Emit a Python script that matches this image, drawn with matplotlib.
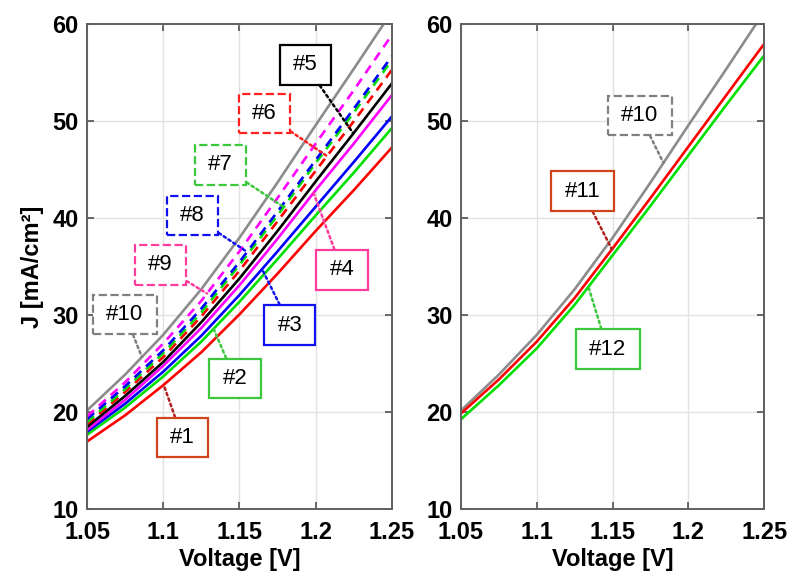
import matplotlib
matplotlib.use("Agg")
import matplotlib.pyplot as plt
from matplotlib.path import Path
import numpy as np

plt.rcParams['font.family'] = ['Liberation Sans', 'DejaVu Sans']

voltage = [1.05, 1.075, 1.10, 1.125, 1.15, 1.175, 1.20, 1.225, 1.25]

# left panel, samples #1 - #10
j1 = [17.0, 19.7, 22.8, 26.2, 30.1, 34.3, 38.7, 42.9, 47.3]
j2 = [17.7, 20.5, 23.7, 27.3, 31.4, 35.8, 40.3, 44.7, 49.3]
j3 = [18.0, 20.9, 24.2, 27.9, 32.1, 36.6, 41.2, 45.8, 50.5]
j4 = [18.2, 21.3, 24.8, 28.7, 33.1, 37.9, 42.9, 47.7, 52.7]
j5 = [18.5, 21.7, 25.2, 29.3, 33.8, 38.7, 43.8, 48.8, 53.9]
j6 = [18.8, 22.1, 25.7, 29.9, 34.6, 39.7, 44.9, 50.0, 55.3]
j7 = [19.0, 22.4, 26.1, 30.3, 35.2, 40.3, 45.7, 50.9, 56.3]
j8 = [19.3, 22.7, 26.4, 30.7, 35.5, 40.7, 46.0, 51.3, 56.7]
j9 = [19.6, 23.1, 27.1, 31.5, 36.6, 42.1, 47.7, 53.2, 58.9]
j10 = [20.2, 23.9, 28.0, 32.7, 38.0, 43.7, 49.6, 55.4, 61.3]
# right panel
j11 = [19.9, 23.4, 27.3, 31.8, 36.9, 42.1, 47.4, 52.7, 58.0]
j12 = [19.3, 22.8, 26.6, 31.1, 36.2, 41.3, 46.5, 51.7, 56.8]

fig = plt.figure(figsize=(7.94, 5.76), dpi=100)
ax1 = fig.add_axes([0.1096, 0.1155, 0.384, 0.8425])
ax2 = fig.add_axes([0.5806, 0.1155, 0.382, 0.8425])

lw = 1.9
dash = (0, (3.5, 2.5))

ax1.plot(voltage, j1, color='#FF0000', lw=lw)
ax1.plot(voltage, j2, color='#00E000', lw=lw)
ax1.plot(voltage, j3, color='#0000FF', lw=lw)
ax1.plot(voltage, j4, color='#FF00FF', lw=lw)
ax1.plot(voltage, j5, color='#000000', lw=lw)
ax1.plot(voltage, j10, color='#8C8C8C', lw=lw)
ax1.plot(voltage, j6, color='#FF0000', lw=lw, ls=dash)
ax1.plot(voltage, j7, color='#00E000', lw=lw, ls=dash)
ax1.plot(voltage, j8, color='#0000FF', lw=lw, ls=dash)
ax1.plot(voltage, j9, color='#FF00FF', lw=lw, ls=dash)

ax2.plot(voltage, j10, color='#8C8C8C', lw=lw)
ax2.plot(voltage, j12, color='#00E000', lw=lw)
ax2.plot(voltage, j11, color='#FF0000', lw=lw)


# box with more room left/right than top/bottom
def wide_box(x0, y0, width, height, mutation_size):
    px, py = 0.6 * mutation_size, 0.42 * mutation_size
    x0, y0 = x0 - px, y0 - py
    x1, y1 = x0 + width + 2 * px, y0 + height + 2 * py
    return Path([(x0, y0), (x1, y0), (x1, y1), (x0, y1), (x0, y0)], closed=True)


def label(ax, text, data, v, pos, edge, line, dashed=False):
    y = np.interp(v, voltage, data)
    ax.annotate(text, xy=(v, y), xytext=pos, fontsize=16,
                ha='center', va='center', zorder=10,
                bbox=dict(boxstyle=wide_box, fc='white', ec=edge,
                          lw=1.6, ls='--' if dashed else '-'),
                arrowprops=dict(arrowstyle='-', color=line, lw=1.8,
                                ls=(0, (1, 1.3)), shrinkA=0, shrinkB=0))


orange = '#D0441C'
green = '#3CC83C'
pink = '#FF3C9C'

label(ax1, '#1', j1, 1.1003, (1.1125, 17.4), orange, '#B02020')
label(ax1, '#2', j2, 1.133, (1.147, 23.5), green, green)
label(ax1, '#3', j3, 1.1648, (1.183, 29.0), '#1010F0', '#1010F0')
label(ax1, '#4', j4, 1.1986, (1.2172, 34.7), pink, pink)
label(ax1, '#5', j5, 1.2247, (1.1932, 55.8), 'black', 'black')
label(ax1, '#6', j6, 1.2074, (1.1663, 50.8), '#FF2020', '#FF2020', True)
label(ax1, '#7', j7, 1.179, (1.1374, 45.5), green, green, True)
label(ax1, '#8', j8, 1.155, (1.1191, 40.3), '#1010F0', '#1010F0', True)
label(ax1, '#9', j9, 1.1287, (1.0981, 35.2), pink, pink, True)
label(ax1, '#10', j10, 1.086, (1.0748, 30.1), '#808080', '#808080', True)

label(ax2, '#10', j10, 1.1835, (1.168, 50.6), '#808080', '#808080', True)
label(ax2, '#11', j11, 1.1495, (1.13, 42.8), orange, '#B02020')
label(ax2, '#12', j12, 1.134, (1.1467, 26.5), green, green)

for ax in (ax1, ax2):
    ax.set_xlim(1.05, 1.25)
    ax.set_ylim(10, 60)
    ax.set_xticks([1.05, 1.1, 1.15, 1.2, 1.25])
    ax.set_xticklabels(['1.05', '1.1', '1.15', '1.2', '1.25'])
    ax.set_yticks([10, 20, 30, 40, 50, 60])
    ax.grid(True, color='#E2E2E2', lw=1)
    ax.set_axisbelow(True)
    ax.tick_params(direction='in', top=True, right=True, length=5,
                   width=1.2, color='#505050', labelsize=17)
    ax.tick_params(axis='x', pad=8)
    ax.tick_params(axis='y', pad=6)
    for lab in ax.get_xticklabels() + ax.get_yticklabels():
        lab.set_fontweight('bold')
    for s in ax.spines.values():
        s.set_color('#606060')
        s.set_linewidth(1.4)
    ax.set_xlabel('Voltage [V]', fontsize=17, fontweight='bold', labelpad=3)

ax1.set_ylabel('J [mA/cm²]', fontsize=17, fontweight='bold', labelpad=6)

fig.savefig('out.png', dpi=100)
